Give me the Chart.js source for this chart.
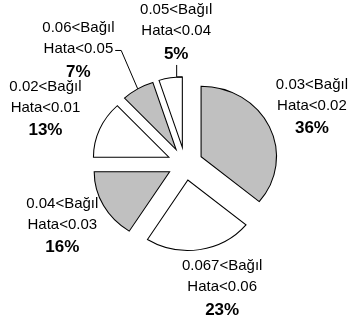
<!DOCTYPE html>
<html>
<head>
<meta charset="utf-8">
<script src="https://cdn.jsdelivr.net/npm/chart.js@4/dist/chart.umd.min.js"></script>
<style>
  html, body { margin: 0; padding: 0; background: #ffffff; }
  #pie { display: block; }
</style>
</head>
<body>
<canvas id="pie" width="354" height="329"></canvas>
<script>
// Relative-error bands (two text lines each) and their share of samples, in %
const bandLines = [
  ['0.03<Bağıl', 'Hata<0.02'],
  ['0.067<Bağıl', 'Hata<0.06'],
  ['0.04<Bağıl', 'Hata<0.03'],
  ['0.02<Bağıl', 'Hata<0.01'],
  ['0.06<Bağıl', 'Hata<0.05'],
  ['0.05<Bağıl', 'Hata<0.04']
];
const shares = [36, 23, 16, 13, 7, 5];
const sliceFills = ['#c0c0c0', '#ffffff', '#c0c0c0', '#ffffff', '#c0c0c0', '#ffffff'];

// Pie geometry
const RADIUS = 70.5;     // vertical radius in px
const STRETCH_X = 1.07;  // pie is slightly wider than tall
const EXPLODE = 16.5;    // every slice pulled out by the same distance

// Label placement relative to each slice's mid angle
const labelPlacement = [
  { r: 132, da: -0.9 },
  { r: 128, da: -6.7 },
  { r: 130, da: 0.8 },
  { r: 142, da: -0.2 },
  { r: 152, da: -10.4, leader: 'side' },
  { r: 133, da: 5.4, leader: 'below' }
];

const FONT = '"Liberation Sans", Arial, sans-serif';

function stretchAbout(ctx, cx) {
  ctx.translate(cx, 0);
  ctx.scale(STRETCH_X, 1);
  ctx.translate(-cx, 0);
}

// Draws the library's arc elements, each displaced outwards along its mid angle
const explodedPie = {
  id: 'explodedPie',
  beforeDatasetsDraw(chart) {
    const ctx = chart.ctx;
    const arcs = chart.getDatasetMeta(0).data;
    if (!arcs.length) return;
    ctx.save();
    stretchAbout(ctx, arcs[0].x);
    arcs.forEach(arc => {
      const mid = (arc.startAngle + arc.endAngle) / 2;
      ctx.save();
      ctx.translate(Math.cos(mid) * EXPLODE, Math.sin(mid) * EXPLODE);
      arc.draw(ctx);
      ctx.restore();
    });
    ctx.restore();
    return false;
  }
};

// Category and percentage labels, with leader lines for the two small slices
const sliceLabels = {
  id: 'sliceLabels',
  afterDraw(chart) {
    const ctx = chart.ctx;
    const arcs = chart.getDatasetMeta(0).data;
    const total = shares.reduce((a, b) => a + b, 0);
    ctx.save();
    ctx.fillStyle = '#000';
    ctx.strokeStyle = '#000';
    ctx.lineWidth = 1;
    ctx.textAlign = 'center';
    ctx.textBaseline = 'middle';
    arcs.forEach((arc, i) => {
      const p = labelPlacement[i];
      const mid = (arc.startAngle + arc.endAngle) / 2;
      const a = mid + p.da * Math.PI / 180;
      const x = arc.x + STRETCH_X * p.r * Math.cos(a);
      const y = arc.y + p.r * Math.sin(a);
      const lines = bandLines[i];
      const pct = Math.round(shares[i] / total * 100) + '%';

      ctx.font = '15px ' + FONT;
      ctx.fillText(lines[0], x, y - 21);
      ctx.fillText(lines[1], x, y);
      ctx.font = 'bold 17px ' + FONT;
      ctx.fillText(pct, x, y + 23);

      if (p.leader === 'side') {
        ctx.font = '15px ' + FONT;
        const w = ctx.measureText(lines[1]).width;
        const sx = x + w / 2 + 2;
        const rr = EXPLODE + RADIUS;
        const tx = arc.x + STRETCH_X * rr * Math.cos(mid);
        const ty = arc.y + rr * Math.sin(mid);
        ctx.beginPath();
        ctx.moveTo(sx, y + 1.5);
        ctx.lineTo(sx + 6, y + 1.5);
        ctx.lineTo(tx, ty);
        ctx.stroke();
      } else if (p.leader === 'below') {
        const cx = arc.x + STRETCH_X * (EXPLODE * Math.cos(mid) + RADIUS * Math.cos(arc.endAngle));
        const cy = arc.y + EXPLODE * Math.sin(mid) + RADIUS * Math.sin(arc.endAngle);
        ctx.beginPath();
        ctx.moveTo(x + 0.5, y + 34);
        ctx.lineTo(x + 0.5, cy);
        ctx.lineTo(cx, cy);
        ctx.stroke();
      }
    });
    ctx.restore();
  }
};

new Chart(document.getElementById('pie'), {
  type: 'pie',
  data: {
    labels: bandLines.map(l => l.join(' ')),
    datasets: [{
      data: shares,
      backgroundColor: sliceFills,
      borderColor: '#000000',
      borderWidth: 1,
      borderJoinStyle: 'miter'
    }]
  },
  options: {
    responsive: false,
    animation: false,
    events: [],
    radius: RADIUS,
    rotation: 0,
    layout: { padding: { left: 16.2, right: 0, top: 0, bottom: 1.6 } },
    plugins: {
      legend: { display: false },
      tooltip: { enabled: false },
      title: { display: false }
    }
  },
  plugins: [explodedPie, sliceLabels]
});
</script>
</body>
</html>
